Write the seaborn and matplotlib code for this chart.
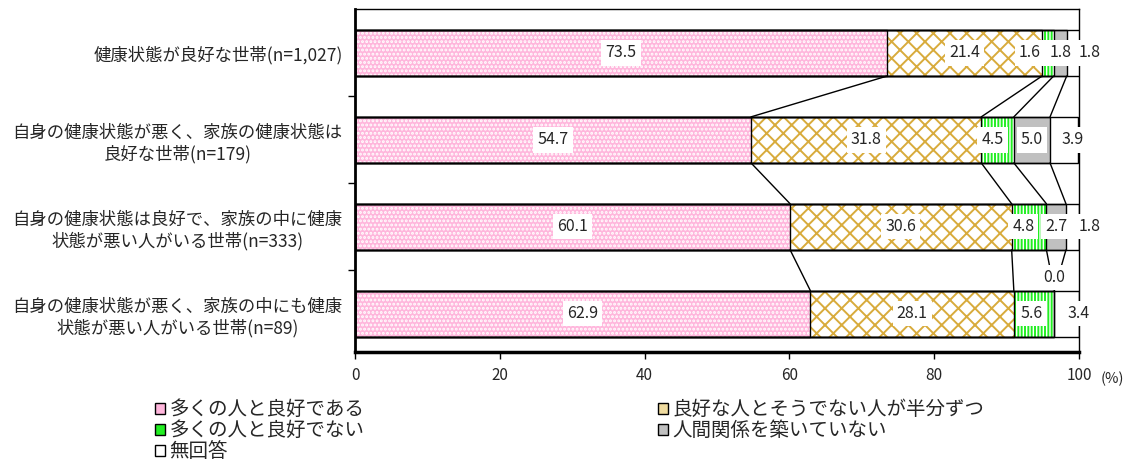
import numpy as np
import pandas as pd
import matplotlib
matplotlib.use("Agg")
import matplotlib.pyplot as plt
import seaborn as sns
from matplotlib.patches import Patch

# data
groups = [
    "健康状態が良好な世帯(n=1,027)",
    "自身の健康状態が悪く、家族の健康状態は\n良好な世帯(n=179)",
    "自身の健康状態は良好で、家族の中に健康\n状態が悪い人がいる世帯(n=333)",
    "自身の健康状態が悪く、家族の中にも健康\n状態が悪い人がいる世帯(n=89)",
]
answers = ["多くの人と良好である", "良好な人とそうでない人が半分ずつ",
           "多くの人と良好でない", "人間関係を築いていない", "無回答"]
good_many = [73.5, 54.7, 60.1, 62.9]
half_half = [21.4, 31.8, 30.6, 28.1]
bad_many = [1.6, 4.5, 4.8, 5.6]
no_relation = [1.8, 5.0, 2.7, 0.0]
no_answer = [1.8, 3.9, 1.8, 3.4]

df = pd.DataFrame({"group": groups, answers[0]: good_many, answers[1]: half_half,
                   answers[2]: bad_many, answers[3]: no_relation, answers[4]: no_answer})
vals = df[answers].to_numpy()
cum = vals.cumsum(axis=1)

# styles
faces = ["#ffb6dc", "white", "white", "#c0c0c0", "white"]
hatch_cols = ["white", "#d8ab3c", "#22ee22", "#c0c0c0", "white"]
hatches = ["....", "xx", "|||||", "", ""]
legend_faces = ["#ffb6dc", "#f0dca0", "#22ee22", "#c0c0c0", "white"]
# label shifts (x in %, y in bar units) for the crowded small segments
label_dx = [[0, 0, -2.5, 0, 2.3],
            [0, 0, -0.7, 0, 1.2],
            [0, 0, -0.8, 0, 2.3],
            [0, 0, -0.3, 0, 1.6]]
label_dy = [[0] * 5, [0] * 5, [0] * 5, [0, 0, 0, -0.42, 0]]

sns.set_theme(style="white")
plt.rcParams["font.family"] = ["Noto Sans CJK JP", "DejaVu Sans"]
plt.rcParams["hatch.linewidth"] = 1.4

fig = plt.figure(figsize=(11.3, 4.61), dpi=100)
ax = fig.add_axes([355 / 1130, 1 - 352 / 461, 724 / 1130, 343 / 461])

bw = 0.53
for k in range(4, -1, -1):
    sns.barplot(x=cum[:, k], y=df["group"], orient="h", color=faces[k], saturation=1,
                edgecolor=hatch_cols[k], linewidth=0, hatch=hatches[k], width=bw, ax=ax)
for k in range(4, -1, -1):
    sns.barplot(x=cum[:, k], y=df["group"], orient="h", fill=False, color="black",
                linewidth=1, width=bw, ax=ax)

# connector lines between the bars
for i in range(len(groups) - 1):
    for k in range(4):
        ax.plot([cum[i, k], cum[i + 1, k]], [i + bw / 2, i + 1 - bw / 2],
                color="black", lw=1, zorder=3)

# value labels
for i in range(len(groups)):
    for k in range(5):
        x = cum[i, k] - vals[i, k] / 2 + label_dx[i][k]
        y = i + label_dy[i][k]
        ax.text(x, y, f"{vals[i, k]:.1f}", ha="center", va="center", fontsize=11.5,
                zorder=5, clip_on=False,
                bbox=dict(facecolor="white", edgecolor="none", pad=3))

ax.set_xlim(0, 100)
ax.set_ylim(3.44, -0.506)
ax.set_xticks(np.arange(0, 101, 20))
ax.set_xlabel("")
ax.set_ylabel("")
ax.set_yticks(range(len(groups)))
ax.set_yticklabels(groups, fontsize=12.5)
for t in ax.get_yticklabels():
    t.set_multialignment("center")
ax.set_yticks([0.5, 1.5, 2.5], minor=True)
ax.tick_params(axis="y", which="major", length=0, pad=9)
ax.tick_params(axis="y", which="minor", left=True, length=5, width=1, color="black", direction="out")
ax.tick_params(axis="x", bottom=True, length=5, width=1, color="black", direction="out",
               labelsize=11, pad=6)
for s in ["top", "right"]:
    ax.spines[s].set_linewidth(1)
ax.spines["left"].set_linewidth(2)
ax.spines["bottom"].set_linewidth(2.5)
for s in ax.spines.values():
    s.set_color("black")
    s.set_visible(True)
fig.text(1112 / 1130, 1 - 379 / 461, "(%)", fontsize=10.5, ha="center", va="center")

handles = [Patch(facecolor=legend_faces[k], edgecolor="black", linewidth=1) for k in range(5)]
order = [0, 2, 4, 1, 3]
fig.legend([handles[k] for k in order], [answers[k] for k in order], ncol=2,
           loc="upper left", bbox_to_anchor=(155 / 1130, 1 - 399 / 461), frameon=False,
           fontsize=14, handlelength=0.5, handleheight=0.5, handletextpad=0.25,
           labelspacing=0.0, columnspacing=15.1, borderpad=0, borderaxespad=0)

fig.savefig("out.png", dpi=100)
